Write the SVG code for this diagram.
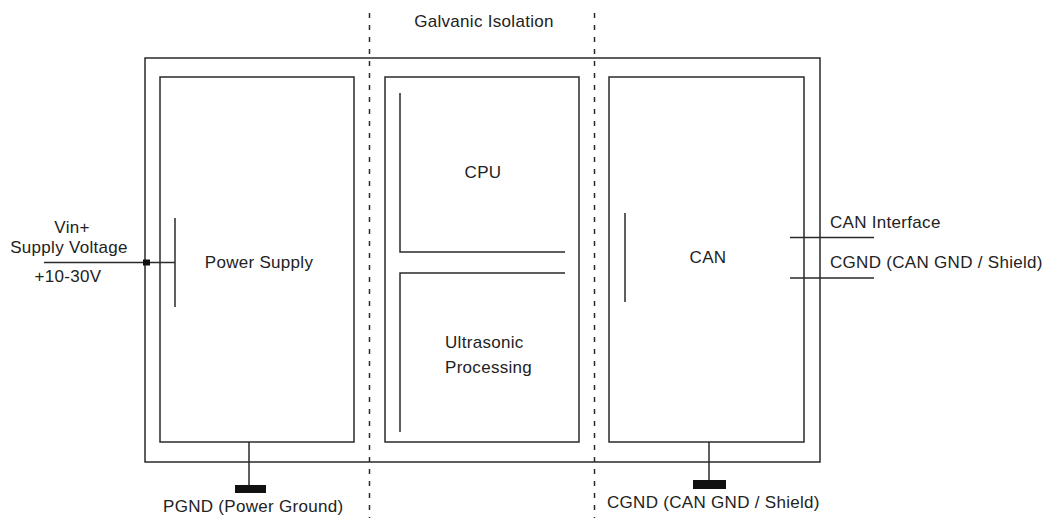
<svg xmlns="http://www.w3.org/2000/svg" width="1050" height="518" viewBox="0 0 1050 518">
<style>
.ln{fill:none;stroke:#2a2a2a;stroke-width:1.5}
.dot{fill:none;stroke:#2a2a2a;stroke-width:1.5;stroke-dasharray:5 7}
.t{font-family:"Liberation Sans",Arial,sans-serif;font-size:17px;fill:#222;letter-spacing:0.3px}
.c{text-anchor:middle}
.gnd{fill:#111}
</style>
<rect width="1050" height="518" fill="#fff"/>
<g id="isolation">
<line class="dot" x1="369.5" y1="13" x2="369.5" y2="518"/>
<line class="dot" x1="594.5" y1="13" x2="594.5" y2="518"/>
<text class="t c" x="484" y="27">Galvanic Isolation</text>
</g>
<g id="housing">
<rect class="ln" x="145" y="58" width="675" height="404"/>
</g>
<g id="power-supply">
<rect class="ln" x="160" y="77" width="194" height="365"/>
<line class="ln" x1="175" y1="218" x2="175" y2="307"/>
<text class="t c" x="259" y="268">Power Supply</text>
</g>
<g id="processing">
<rect class="ln" x="385" y="77" width="194" height="365"/>
<polyline class="ln" points="400,93 400,252 565,252"/>
<polyline class="ln" points="565,273 400,273 400,432"/>
<text class="t c" x="483" y="178">CPU</text>
<text class="t" x="445" y="348">Ultrasonic</text>
<text class="t" x="445" y="373">Processing</text>
</g>
<g id="can">
<rect class="ln" x="609" y="77" width="195" height="365"/>
<line class="ln" x1="625" y1="213" x2="625" y2="302"/>
<text class="t c" x="708" y="263">CAN</text>
</g>
<g id="connectors">
<line class="ln" x1="44" y1="262.5" x2="175" y2="262.5"/>
<rect class="gnd" x="143" y="259.5" width="7" height="6"/>
<line class="ln" x1="790" y1="237.5" x2="874" y2="237.5"/>
<line class="ln" x1="790" y1="278" x2="874" y2="278"/>
<line class="ln" x1="249" y1="442" x2="249" y2="486"/>
<rect class="gnd" x="235" y="485" width="31" height="8"/>
<line class="ln" x1="709" y1="442" x2="709" y2="481"/>
<rect class="gnd" x="693" y="480" width="33" height="9"/>
</g>
<g id="labels">
<text class="t c" x="72" y="233">Vin+</text>
<text class="t c" x="69" y="253">Supply Voltage</text>
<text class="t c" x="68" y="282">+10-30V</text>
<text class="t" x="830" y="228">CAN Interface</text>
<text class="t" x="830" y="268">CGND (CAN GND / Shield)</text>
<text class="t" x="163" y="512">PGND (Power Ground)</text>
<text class="t" x="607" y="508">CGND (CAN GND / Shield)</text>
</g>
</svg>
